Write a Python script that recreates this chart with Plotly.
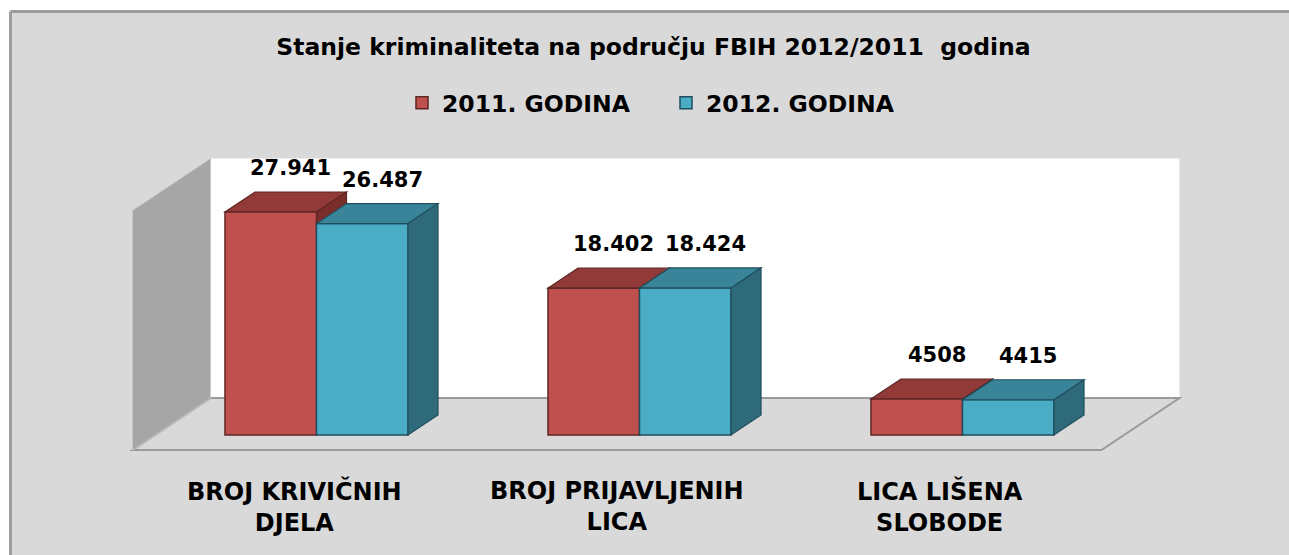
import plotly.graph_objects as go

# ---------------- data ----------------
categories = ["BROJ KRIVIČNIH<br>DJELA", "BROJ PRIJAVLJENIH<br>LICA", "LICA LIŠENA<br>SLOBODE"]
series_names = ["2011. GODINA", "2012. GODINA"]
values_2011 = [27941, 18402, 4508]
values_2012 = [26487, 18424, 4415]
labels_2011 = ["27.941", "18.402", "4508"]
labels_2012 = ["26.487", "18.424", "4415"]
title_text = "Stanje kriminaliteta na području FBIH 2012/2011  godina"
wall_top_value = 30000

# ---------------- layout constants ----------------
FIG_W, FIG_H = 1289, 555
X0_PX = 316.5          # pixel of category 0 (front plane)
PX_PER_CAT = 323.0
Y0_PX = 435.0          # pixel of value 0 (front plane of bars)
PX_PER_VAL = 223.0 / 27941.0
DEPTH_SLOPE = 1.5      # x px per depth px
BAR_DEPTH = 20         # depth of bars (px, vertical)
FLOOR_FRONT_T = -15
FLOOR_BACK_T = 37
BARGAP = 0.4334
W_GROUP = 1 - BARGAP

FONT = "DejaVu Sans"

RED, RED_LINE, RED_TOP, RED_SIDE = "#c0504d", "#5e2624", "#923a38", "#7a2e2c"
CY, CY_LINE, CY_TOP, CY_SIDE = "#4bacc6", "#1f4f5d", "#3a8499", "#2f6a7b"


def P(xw, v, t):
    """project a world point (category units, value, depth px) to data coords"""
    return (xw + t * DEPTH_SLOPE / PX_PER_CAT, v + t / PX_PER_VAL)


def path(pts):
    return "M " + " L ".join(f"{x:.5f},{y:.3f}" for x, y in pts) + " Z"


shapes = []
# chart area background (paper coords) with left/top border
bx, by = 10.5 / FIG_W, 1 - 11.5 / FIG_H
shapes.append(dict(type="rect", xref="paper", yref="paper",
                   x0=bx, x1=1.05, y0=-0.05, y1=by,
                   fillcolor="#d9d9d9", line=dict(width=0), layer="below"))
shapes.append(dict(type="line", xref="paper", yref="paper", x0=bx, x1=1.05, y0=by, y1=by,
                   line=dict(color="#9c9c9c", width=3), layer="below"))
shapes.append(dict(type="line", xref="paper", yref="paper", x0=bx, x1=bx, y0=-0.05, y1=by,
                   line=dict(color="#9c9c9c", width=3), layer="below"))

XL, XR = -0.5, 2.5
# back wall
shapes.append(dict(type="path", xref="x", yref="y", layer="below",
                   path=path([P(XL, 0, FLOOR_BACK_T), P(XR, 0, FLOOR_BACK_T),
                              P(XR, wall_top_value, FLOOR_BACK_T), P(XL, wall_top_value, FLOOR_BACK_T)]),
                   fillcolor="#ffffff", line=dict(width=0)))
# floor
shapes.append(dict(type="path", xref="x", yref="y", layer="below",
                   path=path([P(XL, 0, FLOOR_FRONT_T), P(XR, 0, FLOOR_FRONT_T),
                              P(XR, 0, FLOOR_BACK_T), P(XL, 0, FLOOR_BACK_T)]),
                   fillcolor="#d9d9d9", line=dict(color="#9a9a9a", width=2)))
# left wall
shapes.append(dict(type="path", xref="x", yref="y", layer="below",
                   path=path([P(XL, 0, FLOOR_FRONT_T), P(XL, wall_top_value, FLOOR_FRONT_T),
                              P(XL, wall_top_value, FLOOR_BACK_T), P(XL, 0, FLOOR_BACK_T)]),
                   fillcolor="#a6a6a6", line=dict(color="#c8c8c8", width=1)))


def faces(left, right, v, top_col, side_col, line_col, layer):
    out = []
    out.append(dict(type="path", xref="x", yref="y", layer=layer,
                    path=path([P(left, v, 0), P(right, v, 0),
                               P(right, v, BAR_DEPTH), P(left, v, BAR_DEPTH)]),
                    fillcolor=top_col, line=dict(color=line_col, width=1.2)))
    out.append(dict(type="path", xref="x", yref="y", layer=layer,
                    path=path([P(right, 0, 0), P(right, v, 0),
                               P(right, v, BAR_DEPTH), P(right, 0, BAR_DEPTH)]),
                    fillcolor=side_col, line=dict(color=line_col, width=1.2)))
    return out


annotations = []
for i in range(len(categories)):
    rl, rr = i - W_GROUP / 2, i
    cl, cr = i, i + W_GROUP / 2
    shapes += faces(rl, rr, values_2011[i], RED_TOP, RED_SIDE, RED_LINE, "below")
    shapes += faces(cl, cr, values_2012[i], CY_TOP, CY_SIDE, CY_LINE, "above")
    for (l, r, v, lab) in [(rl, rr, values_2011[i], labels_2011[i]),
                           (cl, cr, values_2012[i], labels_2012[i])]:
        annotations.append(dict(x=(l + r) / 2, y=v, xref="x", yref="y", text=lab,
                                showarrow=False, xshift=20, yshift=BAR_DEPTH + 24,
                                yanchor="middle",
                                font=dict(family=FONT, size=21, color="#000000", weight="bold")))
    annotations.append(dict(x=i, y=1 - 506.5 / FIG_H, xref="x", yref="paper",
                            text=categories[i], showarrow=False, xshift=FLOOR_FRONT_T * DEPTH_SLOPE,
                            yanchor="middle", align="center",
                            font=dict(family=FONT, size=24, color="#000000", weight="bold")))

idx = list(range(len(categories)))
fig = go.Figure()
fig.add_trace(go.Bar(x=idx, y=values_2011, name=series_names[0],
                     marker=dict(color=RED, line=dict(color=RED_LINE, width=1.5)),
                     hoverinfo="skip"))
fig.add_trace(go.Bar(x=idx, y=values_2012, name=series_names[1],
                     marker=dict(color=CY, line=dict(color=CY_LINE, width=1.5)),
                     hoverinfo="skip"))

fig.update_layout(
    width=FIG_W, height=FIG_H, autosize=False,
    margin=dict(l=0, r=0, t=0, b=0, pad=0),
    paper_bgcolor="#ffffff", plot_bgcolor="rgba(0,0,0,0)",
    barmode="group", bargap=BARGAP, bargroupgap=0,
    xaxis=dict(range=[-X0_PX / PX_PER_CAT, (FIG_W - X0_PX) / PX_PER_CAT],
               visible=False, fixedrange=True),
    yaxis=dict(range=[-(FIG_H - Y0_PX) / PX_PER_VAL, Y0_PX / PX_PER_VAL],
               visible=False, fixedrange=True),
    title=dict(text=title_text, x=653.5 / FIG_W, xanchor="center",
               y=1 - 47 / FIG_H, yanchor="middle", xref="container", yref="container",
               font=dict(family=FONT, size=23.5, color="#000000", weight="bold")),
    showlegend=True,
    legend=dict(orientation="h", x=402 / FIG_W, xanchor="left",
                y=1 - 103 / FIG_H, yanchor="middle",
                bgcolor="rgba(0,0,0,0)", borderwidth=0,
                font=dict(family=FONT, size=23.5, color="#000000", weight="bold"),
                entrywidth=219, entrywidthmode="pixels"),
    shapes=shapes, annotations=annotations,
)

fig.write_html("out.html", config={"displayModeBar": False},
               post_script=("document.documentElement.style.overflow='hidden';"
                            "document.body.style.overflow='hidden';"
                            "document.body.style.margin='0';"))
